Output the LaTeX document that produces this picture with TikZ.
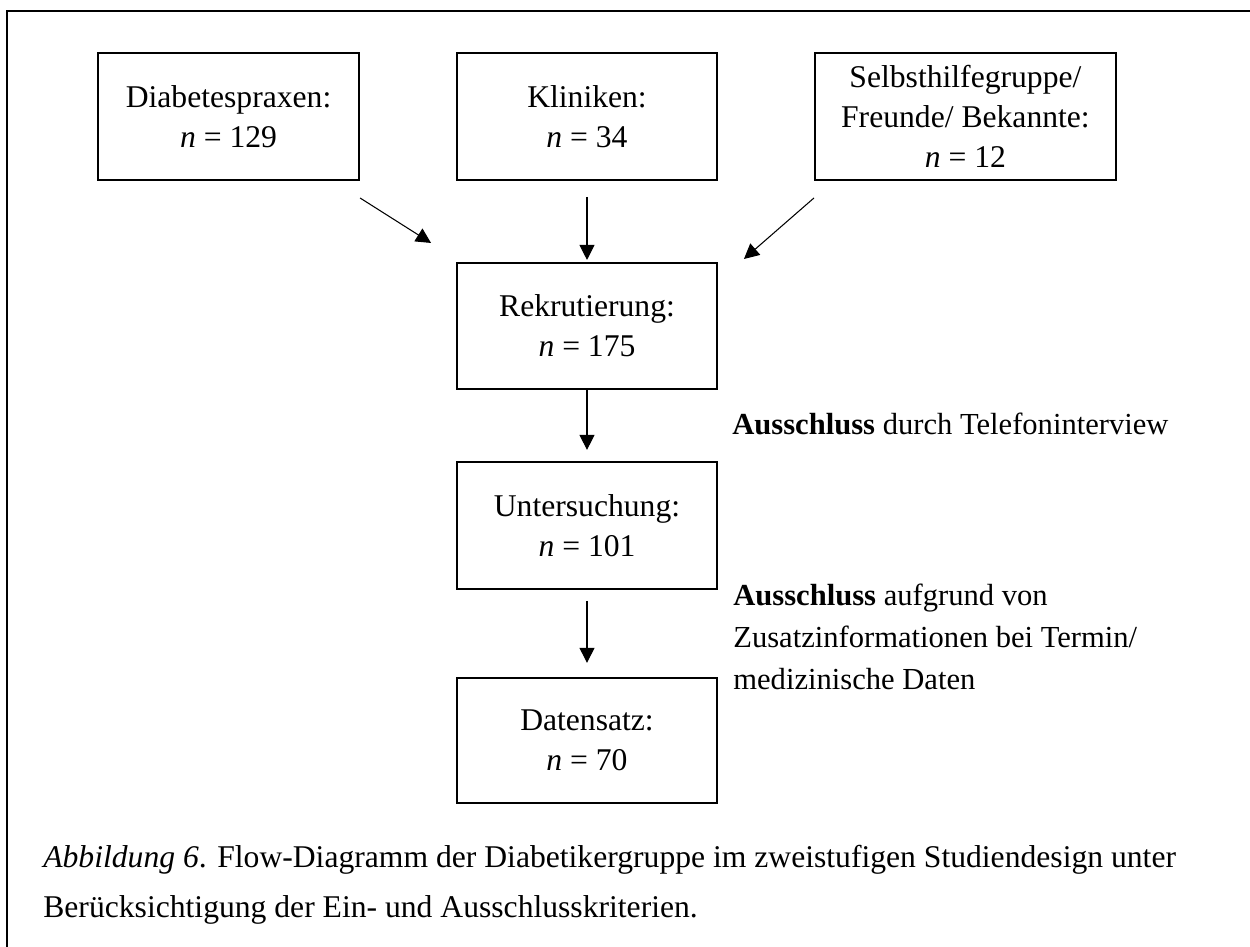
\documentclass[tikz,border=0pt]{standalone}
\usepackage{fontspec}
\setmainfont{Liberation Serif}
\usetikzlibrary{arrows.meta, positioning}

\begin{document}
\begin{tikzpicture}[
    >={Triangle[length=0.3cm, width=0.3cm]},
    stage/.style={draw, line width=1.1pt, minimum width=5.2cm,
                  minimum height=2.54cm, align=center, inner sep=0pt,
                  font=\fontsize{18}{22.8}\selectfont},
    flow/.style={->, line width=0.6pt},
    note/.style={anchor=base west, align=left, inner sep=0pt,
                 font=\fontsize{17.4}{23.9}\selectfont}
  ]
  \useasboundingbox (0,0) rectangle (25,-18.94);
  \draw[line width=0.8pt] (25,-0.22) -- (0.14,-0.22) -- (0.14,-18.94);

  \node[stage] (klin) at (11.74,-2.33) {Kliniken:\\\textit{n} = 34};
  \node[stage, minimum width=5.22cm, left=1.92cm of klin] (praxen)
    {Diabetespraxen:\\\textit{n} = 129};
  \node[stage, minimum width=6.02cm, right=1.92cm of klin] (shg)
    {Selbsthilfegruppe/\\Freunde/ Bekannte:\\\textit{n} = 12};
  \node[stage, minimum height=2.52cm, below=1.62cm of klin] (rekr)
    {Rekrutierung:\\\textit{n} = 175};
  \node[stage, below=1.42cm of rekr] (unters) {Untersuchung:\\\textit{n} = 101};
  \node[stage, minimum height=2.5cm, below=1.74cm of unters] (daten)
    {Datensatz:\\\textit{n} = 70};

  \coordinate (praxen out) at ([yshift=-0.34cm]praxen.south east);
  \coordinate (rekr inl) at ([xshift=-0.5cm, yshift=0.38cm]rekr.north west);
  \coordinate (shg out) at ([yshift=-0.34cm]shg.south west);
  \coordinate (rekr inr) at ([xshift=0.52cm, yshift=0.06cm]rekr.north east);

  \draw[flow] (praxen out) -- (rekr inl);
  \draw[flow] (shg out) -- (rekr inr);
  \draw[flow, shorten <=0.32cm, shorten >=0.04cm] (klin) -- (rekr);
  \draw[flow, shorten >=0.22cm] (rekr) -- (unters);
  \draw[flow, shorten <=0.22cm, shorten >=0.28cm] (unters) -- (daten);

  % base anchor of a multi-line note sits on its last line
  \node[note] (tel) at (14.64,-8.68) {\textbf{Ausschluss} durch Telefoninterview};
  \node[note] (zusatz) at (14.66,-13.78)
    {\textbf{Ausschluss} aufgrund von\\Zusatzinformationen bei Termin/\\medizinische Daten};

  \node[note, font=\fontsize{18}{28.45}\selectfont] (caption) at (0.86,-18.34)
    {\textit{Abbildung 6}. Flow-Diagramm der Diabetikergruppe im zweistufigen Studiendesign unter\\Berücksichtigung der Ein- und Ausschlusskriterien.};
\end{tikzpicture}
\end{document}
